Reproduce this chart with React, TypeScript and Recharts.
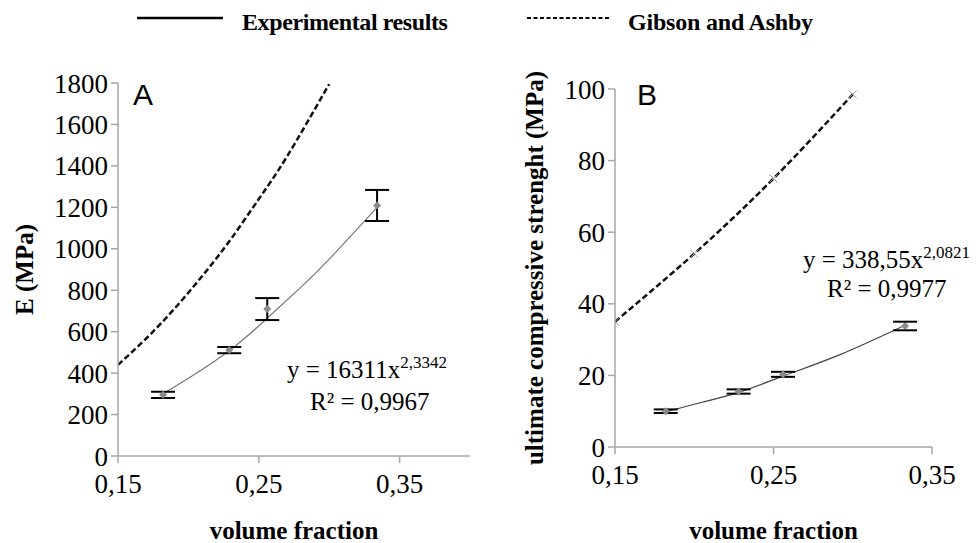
import React from "react";
import { LineChart, Line, XAxis, YAxis, ErrorBar } from "recharts";

// panel A: Young's modulus vs volume fraction
const volA = [0.182, 0.229, 0.256, 0.334];
const modA = [295, 511, 709, 1209];
const modErrA = [15, 15, 53, 75];
const fitVolA = [0.182, 0.2, 0.229, 0.256, 0.28, 0.3, 0.334];
const fitModA = [300, 375, 508, 665, 815, 950, 1200];
const gaVolA = [0.15, 0.17, 0.19, 0.21, 0.23, 0.25, 0.27, 0.3];
const gaModA = [440, 567, 710, 870, 1045, 1240, 1445, 1795];
const ticksXA = [0.15, 0.25, 0.35];
const ticksYA = [0, 200, 400, 600, 800, 1000, 1200, 1400, 1600, 1800];

// panel B: ultimate compressive strength vs volume fraction
const volB = [0.182, 0.228, 0.256, 0.333];
const strB = [10, 15.5, 20.3, 33.8];
const strErrB = [0.5, 0.6, 0.7, 1.2];
const fitVolB = [0.182, 0.205, 0.229, 0.256, 0.292, 0.333];
const fitStrB = [9.8, 12.5, 15.4, 19.8, 25.8, 34.0];
const gaVolB = [0.15, 0.2, 0.25, 0.3];
const gaStrB = [35, 54, 75, 98.5];
const ticksXB = [0.15, 0.25, 0.35];
const ticksYB = [0, 20, 40, 60, 80, 100];

const zip = (xs: number[], ys: number[], es?: number[]) =>
  xs.map((x, i) => ({ x, y: ys[i], err: es ? es[i] : 0 }));

const serif = "'Liberation Serif', 'Times New Roman', serif";
const axisGrey = "#a6a6a6";
const tickStyle = { fill: "#000", fontSize: 27, fontFamily: serif };
const commaFmt = (v: number) => String(v).replace(".", ",");

const Diamond = (p: any) => {
  const { cx, cy } = p;
  if (cx == null || cy == null) return <g key={p.key} />;
  return (
    <path
      key={p.key}
      d={`M${cx},${cy - 4}L${cx + 4},${cy}L${cx},${cy + 4}L${cx - 4},${cy}Z`}
      fill="#8a8a8a"
    />
  );
};

const Cross = (p: any) => {
  const { cx, cy } = p;
  if (cx == null || cy == null) return <g key={p.key} />;
  return (
    <path
      key={p.key}
      d={`M${cx - 4},${cy - 4}L${cx + 4},${cy + 4}M${cx - 4},${cy + 4}L${cx + 4},${cy - 4}`}
      stroke="#999"
      strokeWidth={1}
    />
  );
};

const labelFont = { fill: "#000", fontSize: 25, fontWeight: 700, fontFamily: serif };

export default function App() {
  return (
    <div style={{ position: "absolute", left: 0, top: 0, width: 978, height: 543, background: "#fff" }}>
      <svg width={978} height={60} style={{ position: "absolute", left: 0, top: 0 }}>
        <line x1={137} x2={223} y1={18} y2={18} stroke="#000" strokeWidth={2.5} />
        <text x={242} y={30} fontSize={24} fontWeight={700} fontFamily={serif} letterSpacing={-0.4}>
          Experimental results
        </text>
        <line x1={527} x2={609} y1={18} y2={18} stroke="#000" strokeWidth={2} strokeDasharray="4 2.5" />
        <text x={628} y={30} fontSize={24} fontWeight={700} fontFamily={serif} letterSpacing={-0.2}>
          Gibson and Ashby
        </text>
      </svg>

      <div style={{ position: "absolute", left: 0, top: 0 }}>
        <LineChart width={490} height={543} margin={{ top: 83, right: 20, bottom: 0, left: 0 }}>
          <XAxis
            type="number"
            dataKey="x"
            domain={[0.15, 0.4]}
            ticks={ticksXA}
            tickFormatter={commaFmt}
            height={87}
            tickSize={7}
            tickMargin={11}
            stroke={axisGrey}
            strokeWidth={1.5}
            tick={tickStyle}
            allowDataOverflow
            label={{ value: "volume fraction", position: "insideBottom", offset: 4, ...labelFont }}
          />
          <YAxis
            type="number"
            domain={[0, 1800]}
            ticks={ticksYA}
            width={118}
            tickSize={7}
            tickMargin={3}
            stroke={axisGrey}
            strokeWidth={1.5}
            tick={tickStyle}
            label={{ value: "E (MPa)", angle: -90, position: "insideLeft", offset: 24, style: { textAnchor: "middle" }, ...labelFont }}
          />
          <Line data={zip(gaVolA, gaModA)} dataKey="y" type="natural" stroke="#111" strokeWidth={2.5} strokeDasharray="6 3" dot={false} activeDot={false} isAnimationActive={false} />
          <Line data={zip(fitVolA, fitModA)} dataKey="y" type="natural" stroke="#777" strokeWidth={1.2} dot={false} activeDot={false} isAnimationActive={false} />
          <Line data={zip(volA, modA, modErrA)} dataKey="y" stroke="none" dot={Diamond} activeDot={false} isAnimationActive={false}>
            <ErrorBar dataKey="err" direction="y" width={12} stroke="#000" strokeWidth={2} isAnimationActive={false} />
          </Line>
        </LineChart>
      </div>

      <div style={{ position: "absolute", left: 490, top: 0 }}>
        <LineChart width={488} height={543} margin={{ top: 89, right: 46, bottom: 0, left: 0 }}>
          <XAxis
            type="number"
            dataKey="x"
            domain={[0.15, 0.35]}
            ticks={ticksXB}
            tickFormatter={commaFmt}
            height={96}
            tickSize={7}
            tickMargin={11}
            stroke={axisGrey}
            strokeWidth={1.5}
            tick={tickStyle}
            allowDataOverflow
            label={{ value: "volume fraction", position: "insideBottom", offset: 4, ...labelFont }}
          />
          <YAxis
            type="number"
            domain={[0, 100]}
            ticks={ticksYB}
            width={125}
            tickSize={7}
            tickMargin={3}
            stroke={axisGrey}
            strokeWidth={1.5}
            tick={tickStyle}
            label={{ value: "ultimate compressive strenght (MPa)", angle: -90, position: "insideLeft", offset: 44, style: { textAnchor: "middle" }, ...labelFont }}
          />
          <Line data={zip(gaVolB, gaStrB)} dataKey="y" type="natural" stroke="#111" strokeWidth={2.5} strokeDasharray="6 3" dot={Cross} activeDot={false} isAnimationActive={false} />
          <Line data={zip(fitVolB, fitStrB)} dataKey="y" type="natural" stroke="#444" strokeWidth={1.2} dot={false} activeDot={false} isAnimationActive={false} />
          <Line data={zip(volB, strB, strErrB)} dataKey="y" stroke="none" dot={Diamond} activeDot={false} isAnimationActive={false}>
            <ErrorBar dataKey="err" direction="y" width={12} stroke="#000" strokeWidth={2} isAnimationActive={false} />
          </Line>
        </LineChart>
      </div>

      <svg width={978} height={543} style={{ position: "absolute", left: 0, top: 0, pointerEvents: "none" }}>
        <text x={133} y={105} fontSize={30} fontFamily="'Liberation Sans', Arial, sans-serif">A</text>
        <text x={637} y={105} fontSize={30} fontFamily="'Liberation Sans', Arial, sans-serif">B</text>
        <text x={287} y={378} fontSize={25} fontFamily={serif}>
          y = 16311x<tspan fontSize={17} dy={-10}>2,3342</tspan>
        </text>
        <text x={310} y={410} fontSize={25} fontFamily={serif}>R² = 0,9967</text>
        <text x={803} y={268} fontSize={25} fontFamily={serif}>
          y = 338,55x<tspan fontSize={17} dy={-10}>2,0821</tspan>
        </text>
        <text x={827} y={297} fontSize={25} fontFamily={serif}>R² = 0,9977</text>
      </svg>
    </div>
  );
}
